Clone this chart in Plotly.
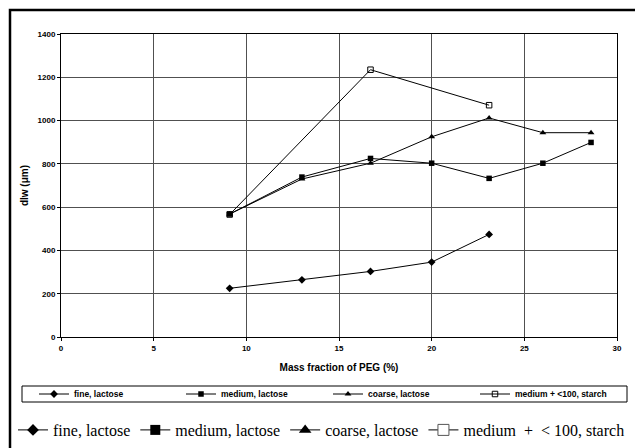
import plotly.graph_objects as go

# ---- data ----
fine_x = [9.1, 13.0, 16.7, 20.0, 23.1]
fine_y = [225, 264, 303, 346, 474]

medium_x = [9.1, 13.0, 16.7, 20.0, 23.1, 26.0, 28.6]
medium_y = [568, 739, 825, 803, 733, 803, 899]

coarse_x = [9.1, 13.0, 16.7, 20.0, 23.1, 26.0, 28.6]
coarse_y = [568, 730, 803, 925, 1012, 944, 944]

starch_x = [9.1, 16.7, 23.1]
starch_y = [566, 1235, 1071]

series_names = ["fine, lactose", "medium, lactose", "coarse, lactose", "medium + <100, starch"]
big_names = ["fine, lactose", "medium, lactose", "coarse, lactose", "medium  +  < 100, starch"]

x_ticks = [0, 5, 10, 15, 20, 25, 30]
y_ticks = [0, 200, 400, 600, 800, 1000, 1200, 1400]

# ---- layout geometry (px) ----
W, H = 635, 448
L, R, T, B = 61, 18, 34, 111
PW = W - L - R
PH = H - T - B


def px_x(p):
    return (p - L) / PW


def px_y(p):
    return (H - B - p) / PH


sans = "Liberation Sans, Arial, sans-serif"
serif = "Liberation Serif, Times New Roman, serif"

fig = go.Figure()

styles = [
    dict(symbol="diamond", size=6, color="black", line=dict(width=0)),
    dict(symbol="square", size=5.5, color="black", line=dict(width=0)),
    dict(symbol="triangle-up", size=6, color="black", line=dict(width=0)),
    dict(symbol="square-open", size=5.5, color="black", line=dict(width=1, color="black")),
]
big_styles = [
    dict(symbol="diamond", size=9, color="black", line=dict(width=0)),
    dict(symbol="square", size=10, color="black", line=dict(width=0)),
    dict(symbol="triangle-up", size=11, color="black", line=dict(width=0)),
    dict(symbol="square", size=11, color="white", line=dict(width=1, color="#555")),
]
data = [(fine_x, fine_y), (medium_x, medium_y), (coarse_x, coarse_y), (starch_x, starch_y)]

for (xs, ys), name, st in zip(data, series_names, styles):
    fig.add_trace(go.Scatter(
        x=xs, y=ys, name=name, mode="lines+markers",
        line=dict(color="black", width=1), marker=st, legend="legend",
    ))

for name, st in zip(big_names, big_styles):
    fig.add_trace(go.Scatter(
        x=[None], y=[None], name=name, mode="lines+markers",
        line=dict(color="black", width=1), marker=st, legend="legend2",
        hoverinfo="skip",
    ))

axis_common = dict(
    showline=True, linecolor="black", linewidth=1, mirror=True,
    showgrid=True, gridcolor="#505050", gridwidth=1,
    ticks="outside", ticklen=3, tickcolor="black",
    tickfont=dict(family=sans, size=8, color="black", weight="bold"),
    zeroline=False,
)

fig.update_xaxes(range=[0, 30], tickvals=x_ticks, **axis_common,
                 title=dict(text="Mass fraction of PEG (%)",
                            font=dict(family=sans, size=10, color="black", weight="bold"),
                            standoff=12))
fig.update_yaxes(range=[0, 1400], tickvals=y_ticks, **axis_common,
                 title=dict(text="dlw (μm)",
                            font=dict(family=sans, size=10, color="black", weight="bold"),
                            standoff=7))

fig.update_layout(
    width=W, height=H,
    margin=dict(l=L, r=R, t=T, b=B, autoexpand=False),
    paper_bgcolor="white", plot_bgcolor="white",
    showlegend=True,
    legend=dict(
        orientation="h", x=px_x(34), xanchor="left", y=px_y(394), yanchor="middle",
        font=dict(family=sans, size=8.5, color="black", weight="bold"),
        entrywidth=102, entrywidthmode="pixels",
        bgcolor="rgba(0,0,0,0)", borderwidth=0, itemwidth=30,
    ),
    legend2=dict(
        orientation="h", x=px_x(13), xanchor="left", y=px_y(430), yanchor="middle",
        font=dict(family=serif, size=16, color="black"),
        bgcolor="rgba(0,0,0,0)", borderwidth=0, itemwidth=30,
    ),
    shapes=[
        dict(type="rect", xref="paper", yref="paper",
             x0=px_x(10), x1=px_x(W + 10), y0=px_y(H + 10), y1=px_y(10),
             line=dict(color="black", width=2.5), fillcolor="rgba(0,0,0,0)", layer="above"),
        dict(type="rect", xref="paper", yref="paper",
             x0=px_x(22), x1=px_x(627), y0=px_y(402), y1=px_y(386),
             line=dict(color="black", width=1), fillcolor="rgba(0,0,0,0)", layer="above"),
    ],
)

fig.write_html("out.html", config={"displayModeBar": False},
               post_script="document.body.style.margin='0';document.body.style.overflow='hidden';")
